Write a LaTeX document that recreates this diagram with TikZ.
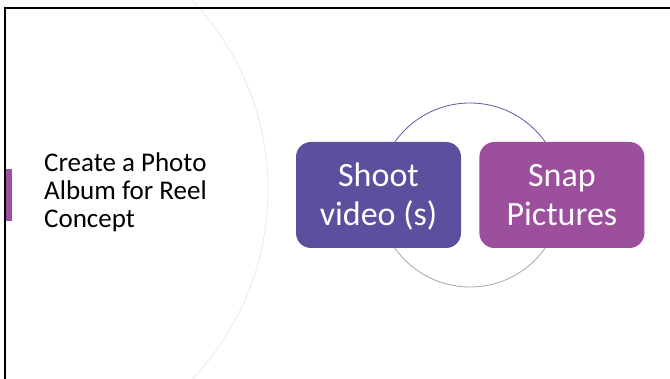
\documentclass[tikz,border=0pt]{standalone}
\usepackage{fontspec}
\setmainfont{Carlito}
\usetikzlibrary{positioning}
\definecolor{shootcol}{HTML}{5B4F9E}
\definecolor{snapcol}{HTML}{9B4F9C}
\definecolor{ringtop}{HTML}{6356A6}
\definecolor{ringbot}{HTML}{A8A8A8}
\newcommand*\linestrut{\rule[-8pt]{0pt}{38pt}}
\tikzset{
  stagebox/.style={rounded corners=15pt,minimum width=165pt,minimum height=106pt,
    text=white,align=center,font=\fontsize{34}{37}\selectfont,inner sep=0pt},
  titletext/.style={align=left,anchor=base west,font=\fontsize{27}{28}\selectfont,inner sep=0pt}
}
\begin{document}
\begin{tikzpicture}[x=1pt,y=-1pt]
\useasboundingbox (0,0) rectangle (670,379);
\clip (0,0) rectangle (670,379);
\fill[white] (0,0) rectangle (670,379);

% faint big arc
\draw[black!8,line width=0.8pt] (-6,190) circle (274);

% frame
\draw[line width=2.4pt] (5,379) -- (5,8) -- (670,8);
\fill[snapcol] (6.2,169) rectangle (12,221);

% ring behind the boxes
\coordinate (ring) at (470,195);
\draw[ringtop,line width=0.8pt] ([xshift=92pt]ring) arc[start angle=0,end angle=180,radius=92pt];
\draw[ringbot,line width=0.8pt] ([xshift=-92pt]ring) arc[start angle=180,end angle=360,radius=92pt];

% boxes
\node[stagebox,fill=shootcol] (shoot) at (378.5,195) {\linestrut Shoot\\\linestrut video (s)};
\node[stagebox,fill=snapcol,right=18pt of shoot] (snap) {\linestrut Snap\\\linestrut Pictures};

% base anchor sits on the last line
\node[titletext] (concept) at (44,228) {Create a Photo\\Album for Reel\\Concept};
\end{tikzpicture}
\end{document}
